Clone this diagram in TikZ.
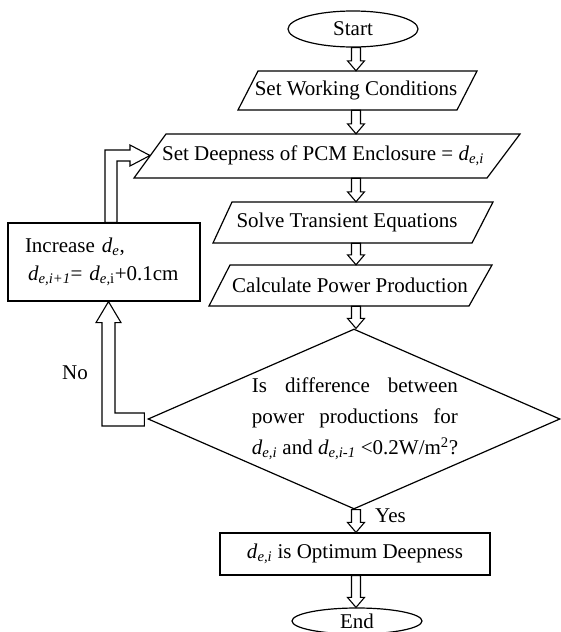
\documentclass[tikz,border=0pt]{standalone}
\usepackage{fontspec}
\setmainfont{Liberation Serif}
\usetikzlibrary{shapes.geometric,calc}
\newcommand\dsub[1]{\textit{d}\textsubscript{\textit{#1}}}
\newcommand\para[6]{\draw[box] (#1,#6) -- (#2,#5) -- (#3,#5) -- (#4,#6) -- cycle;}
\newcommand\harr[2]{\draw[hol] let \p1=(col |- #1), \p2=(col |- #2) in
  (\x1-4.5pt,\y1) -- (\x1-4.5pt,\y2+10pt) -- (\x1-8.5pt,\y2+10pt) -- (\x1,\y2)
  -- (\x1+8.5pt,\y2+10pt) -- (\x1+4.5pt,\y2+10pt) -- (\x1+4.5pt,\y1) -- cycle;}
\begin{document}
\begin{tikzpicture}[x=1pt,y=-1pt,
  every node/.style={font=\fontsize{21}{25}\selectfont, inner sep=0pt},
  box/.style={draw, line width=1.2pt},
  hol/.style={draw, line width=1.1pt, fill=white, line join=miter}]
\clip (0,0) rectangle (561,632);
\fill[white] (0,0) rectangle (561,632);
\coordinate (col) at (356,0);

% start / end
\node[box, ellipse, minimum width=130pt, minimum height=36pt] (start) at (353,29) {Start};
\node[box, ellipse, minimum width=130pt, minimum height=26pt] (end) at (357,621) {End};

% parallelograms
\para{238}{258}{477}{457}{71}{110}
\node[minimum height=39pt] (sw) at (356,90.5) {Set Working Conditions};
\para{134}{166}{520}{487}{134}{178}
\node[minimum height=44pt] (sd) at (323,156) {Set Deepness of PCM Enclosure = \dsub{e,i}};
\para{213}{232}{493}{472}{202}{243}
\node[minimum height=41pt] (st) at (347,222.5) {Solve Transient Equations};
\para{209}{230}{492}{469}{265}{306}
\node[minimum height=41pt] (cp) at (350,285.5) {Calculate Power Production};
\coordinate (sdl) at (150,155.5);

% decision
\node[box, diamond, minimum width=412pt, minimum height=180pt] (dec) at (354,419) {};
\node[align=left, font=\fontsize{21}{31}\selectfont] (dect) at (355,419)
  {\makebox[206pt][s]{Is difference between}\\
   \makebox[206pt][s]{power productions for}\\
   \dsub{e,i} and \dsub{e,i-1} <0.2W/m\textsuperscript{2}?};

% rectangles
\node[box, minimum width=270pt, minimum height=42pt] (opt) at (355,554) {\dsub{e,i} is Optimum Deepness};
\node[box, minimum width=192pt, minimum height=78pt, text width=158pt, inner xsep=17pt,
  align=left, font=\fontsize{21}{28}\selectfont] (inc) at (104,262)
  {Increase \dsub{e},\\\hspace*{3pt}\textit{d}\textsubscript{\textit{e,i+1}}= \textit{d}\textsubscript{\textit{e,}i}+0.1cm};

% labels
\node[anchor=west] (yes) at (375,516) {Yes};
\node (no) at (75,373) {No};

% hollow arrows
\harr{start.south}{sw.north}
\harr{sw.south}{sd.north}
\harr{sd.south}{st.north}
\harr{st.south}{cp.north}
\harr{cp.south}{dec.north}
\harr{dec.south}{opt.north}
\harr{opt.south}{end.north}

% no branch
\coordinate (T) at ($(inc.south)+(4.5,0)$);
\draw[hol] ($(dec.west)+(-3,-6)$) -| ($(T)+(6.5,21)$) -- ++(6,0) -- (T)
  -- ($(T)+(-12.5,21)$) -- ++(6,0) |- ($(dec.west)+(-3,7)$) -- cycle;

% loop back
\draw[hol] ($(inc.north)+(1,0)$) |- ($(sdl)+(-20,-5.5)$) -- ++(0,-5) -- (sdl)
  -- ($(sdl)+(-20,10.5)$) -- ++(0,-5) -| ($(inc.north)+(13,0)$) -- cycle;
\end{tikzpicture}
\end{document}
